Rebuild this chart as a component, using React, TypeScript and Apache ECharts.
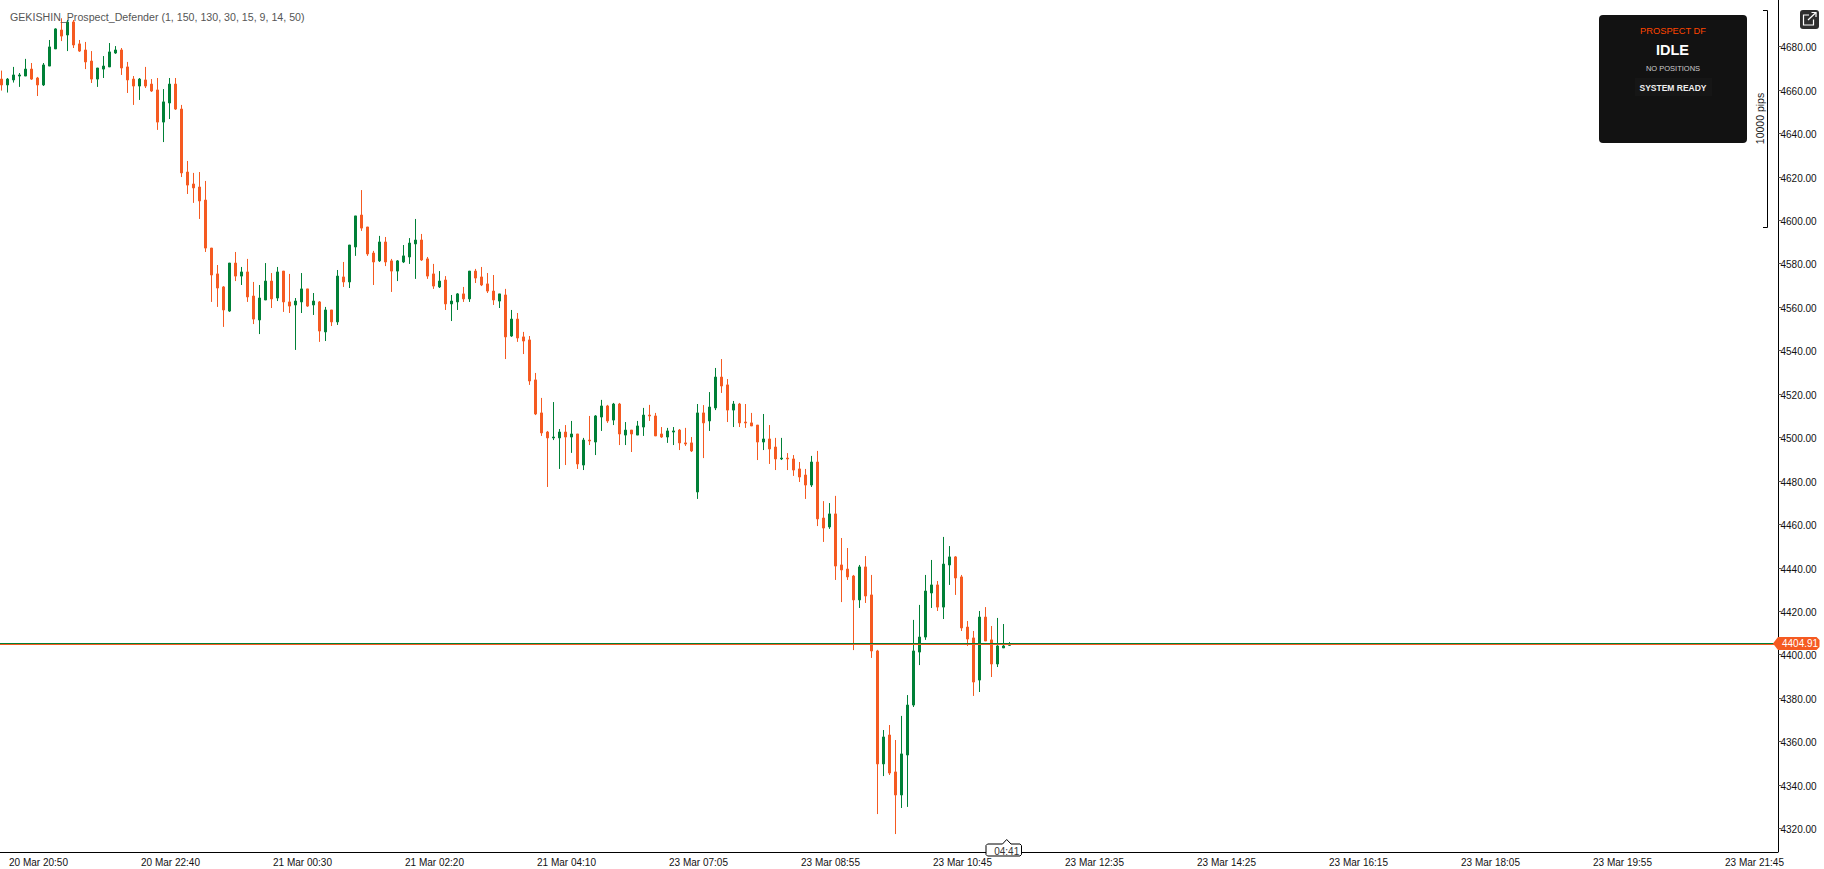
import React, { useEffect, useRef } from 'react';
import * as echarts from 'echarts';

const opens = [
  4665.0,4662.3,4664.6,4666.4,4666.4,4669.6,4665.5,4662.3,4671.0,4678.9,
  4687.6,4685.3,4691.3,4681.2,4678.4,4673.3,4665.0,4669.6,4670.6,4677.0,
  4678.4,4670.6,4665.0,4661.8,4664.6,4662.7,4660.0,4645.2,4654.0,4662.7,
  4651.2,4622.2,4616.7,4615.3,4609.3,4587.2,4575.3,4569.3,4558.2,4580.3,
  4574.3,4576.2,4565.1,4554.1,4563.3,4572.0,4564.2,4576.6,4562.4,4561.0,
  4562.4,4568.4,4561.0,4562.4,4548.6,4558.7,4553.2,4573.9,4571.6,4587.7,
  4602.4,4596.9,4584.9,4581.3,4590.0,4581.3,4576.6,4580.8,4583.1,4589.1,
  4590.9,4582.2,4575.3,4569.3,4572.5,4561.5,4562.4,4566.1,4563.8,4576.6,
  4573.9,4570.7,4567.4,4562.8,4565.6,4546.7,4554.5,4546.3,4544.9,4526.5,
  4511.3,4502.5,4499.8,4499.8,4502.5,4500.2,4501.6,4487.3,4498.8,4497.9,
  4509.4,4514.5,4508.0,4515.4,4501.1,4503.4,4501.1,4504.8,4510.3,4509.9,
  4501.6,4500.2,4502.5,4503.4,4497.5,4497.5,4474.9,4511.3,4507.6,4513.6,
  4527.8,4524.2,4512.6,4515.4,4507.1,4506.7,4505.7,4497.9,4499.3,4495.6,
  4490.1,4490.5,4490.1,4485.5,4482.7,4478.1,4488.7,4462.9,4458.8,4464.8,
  4441.3,4439.4,4436.2,4425.2,4440.4,4427.5,4401.7,4349.7,4363.0,4346.0,
  4335.4,4353.8,4376.8,4401.2,4408.1,4428.4,4432.1,4421.9,4441.3,4445.0,
  4435.8,4412.7,4407.7,4388.3,4417.3,4406.8,4395.7,4403.1,4404.3,
];
const closes = [
  4662.3,4665.0,4666.9,4666.9,4669.6,4665.0,4662.3,4671.5,4679.8,4688.1,
  4684.8,4691.3,4680.7,4677.9,4672.9,4665.0,4670.1,4671.0,4677.5,4678.4,
  4670.1,4664.6,4661.8,4665.0,4661.8,4659.5,4645.2,4654.5,4662.7,4651.2,
  4621.8,4616.2,4614.9,4608.9,4587.2,4574.8,4568.8,4558.7,4580.3,4574.3,
  4576.2,4564.7,4554.5,4564.2,4572.0,4563.8,4576.2,4562.4,4560.5,4562.8,
  4568.4,4560.5,4562.8,4549.0,4558.7,4553.2,4574.3,4571.6,4588.6,4602.0,
  4596.4,4584.5,4580.8,4590.0,4580.8,4576.6,4581.3,4583.6,4589.5,4590.9,
  4581.7,4574.3,4569.7,4572.0,4561.5,4562.8,4566.1,4563.8,4576.6,4573.4,
  4570.2,4567.4,4563.3,4566.1,4546.3,4554.5,4545.8,4544.4,4526.0,4510.8,
  4502.1,4499.8,4500.2,4502.5,4500.2,4501.6,4487.8,4498.8,4498.4,4509.9,
  4514.5,4507.6,4515.4,4501.6,4503.4,4501.6,4505.3,4510.3,4509.9,4500.7,
  4500.2,4503.0,4503.0,4497.5,4497.0,4493.8,4511.3,4506.7,4514.0,4527.8,
  4523.7,4512.6,4515.4,4506.7,4506.7,4505.3,4497.9,4499.3,4494.7,4490.1,
  4490.5,4490.1,4485.0,4481.8,4478.1,4488.7,4462.5,4458.3,4464.8,4440.8,
  4439.0,4435.8,4425.2,4440.4,4427.0,4401.7,4349.7,4362.1,4345.5,4335.4,
  4354.3,4376.8,4401.7,4408.1,4429.3,4432.1,4421.9,4441.7,4445.0,4435.3,
  4412.3,4407.2,4387.4,4417.3,4406.3,4395.7,4404.0,4404.0,4404.9,
];
const lows = [
  4659.7,4658.8,4663.4,4661.4,4666.4,4664.6,4657.2,4661.8,4671.0,4678.9,
  4682.5,4677.9,4679.3,4677.5,4669.6,4663.2,4661.4,4665.5,4670.6,4676.6,
  4666.9,4658.6,4653.1,4655.4,4660.9,4659.1,4641.6,4636.0,4646.6,4650.8,
  4619.9,4612.1,4608.0,4600.6,4585.4,4562.4,4560.1,4550.9,4557.8,4572.0,
  4570.2,4562.4,4552.2,4547.6,4563.3,4559.6,4562.8,4557.8,4557.3,4540.3,
  4557.3,4560.1,4556.4,4544.0,4544.4,4551.3,4551.8,4569.3,4568.8,4583.6,
  4595.1,4583.6,4570.2,4580.8,4578.9,4567.0,4572.0,4580.3,4579.9,4573.0,
  4581.3,4573.0,4568.4,4568.8,4558.7,4553.6,4558.7,4562.4,4562.4,4571.1,
  4569.7,4566.5,4561.0,4559.6,4536.1,4546.3,4544.0,4538.4,4524.2,4510.3,
  4500.7,4477.2,4498.8,4485.5,4487.3,4492.9,4485.5,4485.0,4496.5,4491.9,
  4503.0,4506.7,4505.7,4496.5,4496.5,4493.3,4501.1,4500.7,4507.6,4500.7,
  4499.8,4497.5,4496.5,4494.2,4496.1,4493.3,4471.7,4490.5,4503.0,4512.6,
  4520.5,4507.1,4504.8,4504.8,4504.4,4505.3,4489.6,4494.2,4487.8,4485.0,
  4489.6,4485.0,4482.3,4479.5,4471.7,4477.2,4459.2,4451.9,4457.9,4434.4,
  4424.2,4434.4,4402.1,4421.5,4423.8,4398.5,4326.6,4344.1,4344.6,4317.4,
  4329.4,4329.9,4375.9,4395.2,4406.8,4421.5,4420.1,4416.4,4432.1,4427.5,
  4410.9,4404.0,4381.0,4382.8,4406.3,4389.7,4394.3,4403.1,4404.0,
];
const highs = [
  4668.9,4665.5,4670.6,4667.8,4674.3,4672.4,4666.0,4672.4,4683.0,4688.4,
  4693.0,4692.2,4692.2,4683.0,4682.1,4677.9,4670.1,4675.6,4681.6,4680.2,
  4679.3,4672.9,4666.4,4665.5,4670.6,4665.0,4665.5,4660.4,4665.5,4665.5,
  4653.1,4627.3,4621.8,4622.2,4618.1,4587.2,4579.4,4569.7,4580.3,4585.4,
  4578.5,4582.2,4571.6,4570.2,4580.3,4575.7,4578.5,4576.6,4575.3,4564.2,
  4575.7,4568.4,4566.5,4562.8,4560.1,4558.7,4577.1,4580.8,4588.6,4602.0,
  4613.9,4596.9,4585.9,4592.8,4592.3,4582.2,4581.7,4588.6,4591.8,4600.6,
  4593.7,4583.1,4579.9,4576.6,4574.3,4565.6,4566.5,4569.3,4576.6,4577.6,
  4578.5,4575.7,4574.8,4566.1,4568.4,4558.7,4557.3,4548.6,4546.7,4529.7,
  4518.2,4503.0,4516.3,4503.9,4505.7,4507.6,4501.6,4499.8,4509.9,4510.3,
  4517.3,4515.0,4515.9,4515.9,4507.1,4503.4,4507.6,4513.6,4515.0,4511.3,
  4504.8,4504.4,4504.8,4503.9,4504.4,4500.2,4515.4,4514.9,4520.9,4532.0,
  4536.1,4526.9,4516.8,4515.9,4515.4,4511.3,4505.7,4510.8,4505.7,4499.8,
  4499.8,4492.8,4491.9,4488.7,4485.5,4491.5,4493.8,4470.7,4469.8,4473.1,
  4453.7,4449.1,4436.7,4441.3,4445.4,4436.7,4402.2,4365.3,4367.6,4360.7,
  4371.8,4381.4,4416.0,4422.9,4436.7,4443.6,4433.9,4454.2,4450.0,4445.4,
  4436.7,4415.5,4410.9,4420.1,4421.9,4413.2,4416.9,4414.1,4405.8,
];

const timeLabels = [
  '20 Mar 20:50', '20 Mar 22:40', '21 Mar 00:30', '21 Mar 02:20', '21 Mar 04:10',
  '23 Mar 07:05', '23 Mar 08:55', '23 Mar 10:45', '23 Mar 12:35', '23 Mar 14:25',
  '23 Mar 16:15', '23 Mar 18:05', '23 Mar 19:55', '23 Mar 21:45',
];
const priceTicks = [
  4320, 4340, 4360, 4380, 4400, 4420, 4440, 4460, 4480, 4500, 4520, 4540,
  4560, 4580, 4600, 4620, 4640, 4660, 4680,
];
// bid and ask lines, one pixel apart around the last price tag
const bidLine = 4405.14;
const askLine = 4404.68;

const UP = '#008037';
const DOWN = '#F55A21';
const FONT = '"Liberation Sans", Arial, sans-serif';

// 5 minute bars, a label every 22 bars, and empty slots to the right of the last bar
const SLOTS = 297;
const FIRST_TICK = 6;
const TICK_STEP = 22;
const isTick = (i: number) => i >= FIRST_TICK && (i - FIRST_TICK) % TICK_STEP === 0;
const categories = Array.from({ length: SLOTS }, (_, i) =>
  isTick(i) ? timeLabels[(i - FIRST_TICK) / TICK_STEP] ?? '' : ''
);
const candles = opens.map((o, i) => [o, closes[i], lows[i], highs[i]]);

const text = (x: number, y: number, value: string, fontSize: number, fill: string, fontWeight = 'normal', align = 'center') => ({
  type: 'text',
  x,
  y,
  z: 20,
  style: { text: value, fontSize, fill, fontWeight, fontFamily: FONT, align, verticalAlign: 'middle' },
});

const App: React.FC = () => {
  const chartRef = useRef<HTMLDivElement>(null);

  useEffect(() => {
    if (!chartRef.current) return;
    const chart = echarts.init(chartRef.current, undefined, { renderer: 'svg' });

    const option: any = {
      animation: false,
      backgroundColor: '#ffffff',
      // the first bar sits partly left of the page, so the grid has to start off-page
      grid: { left: -1.5, top: 0, width: SLOTS * 6, height: 852, outerBoundsMode: 'none' },
      xAxis: {
        type: 'category',
        data: categories,
        axisLine: { show: false },
        axisTick: { alignWithLabel: true, interval: (i: number) => isTick(i), length: 3, lineStyle: { color: '#000', width: 2 } },
        axisLabel: { interval: (i: number) => isTick(i), color: '#111', fontSize: 10, fontFamily: FONT, margin: 5, padding: [0, 0, 0, 2] },
        splitLine: { show: false },
      },
      yAxis: {
        type: 'value',
        position: 'right',
        offset: -2,
        min: 4309.14,
        max: 4701.41,
        scale: true,
        axisLine: { show: true, lineStyle: { color: '#000', width: 1 } },
        axisTick: { show: true, customValues: priceTicks, length: 3, lineStyle: { color: '#555', width: 1 } },
        axisLabel: {
          customValues: priceTicks,
          formatter: (v: number) => v.toFixed(2),
          color: '#111',
          fontSize: 10,
          fontFamily: FONT,
          margin: 2,
          verticalAlign: 'top',
          lineHeight: 2.5,
        },
        splitLine: { show: false },
      },
      series: [
        {
          type: 'candlestick',
          data: candles,
          barWidth: 2,
          itemStyle: { color: UP, color0: DOWN, borderColor: UP, borderColor0: DOWN, borderWidth: 1 },
          markLine: {
            silent: true,
            symbol: 'none',
            label: { show: false },
            animation: false,
            data: [
              { yAxis: bidLine, lineStyle: { color: UP, type: 'solid', width: 1 } },
              { yAxis: askLine, lineStyle: { color: DOWN, type: 'solid', width: 1 } },
            ],
          },
        },
      ],
      graphic: [
        { type: 'line', z: 10, shape: { x1: 0, y1: 852.5, x2: 1778, y2: 852.5 }, style: { stroke: '#000', lineWidth: 1 } },
        text(10, 17, 'GEKISHIN_Prospect_Defender (1, 150, 130, 30, 15, 9, 14, 50)', 10.65, '#555', 'normal', 'left'),

        // status panel
        { type: 'rect', z: 15, shape: { x: 1599, y: 15, width: 148, height: 128, r: 4 }, style: { fill: '#121212' } },
        { type: 'rect', z: 16, shape: { x: 1635, y: 78, width: 77, height: 18 }, style: { fill: '#161616' } },
        text(1673, 30.5, 'PROSPECT DF', 9.3, '#FF4500'),
        text(1672.5, 50, 'IDLE', 14.5, '#ffffff', 'bold'),
        text(1673, 68, 'NO POSITIONS', 7.5, '#cccccc'),
        text(1673, 87.5, 'SYSTEM READY', 8.5, '#eeeeee', 'bold'),

        // scale bracket
        { type: 'polyline', z: 10, shape: { points: [[1763, 10.5], [1767.5, 10.5], [1767.5, 227.5], [1763, 227.5]] }, style: { stroke: '#000', lineWidth: 1, fill: 'none' } },
        {
          type: 'text',
          z: 10,
          x: 1760,
          y: 118.5,
          rotation: Math.PI / 2,
          style: { text: '10000 pips', fontSize: 10.5, fill: '#222', fontFamily: FONT, align: 'center', verticalAlign: 'middle' },
        },

        // open in window button
        { type: 'rect', z: 15, shape: { x: 1800, y: 10, width: 19, height: 19, r: 3 }, style: { fill: '#2f2f2f' } },
        { type: 'polyline', z: 16, shape: { points: [[1809, 15], [1803.5, 15], [1803.5, 25], [1813.5, 25], [1813.5, 19.5]] }, style: { stroke: '#fff', lineWidth: 1.2, fill: 'none' } },
        { type: 'line', z: 16, shape: { x1: 1808, y1: 20, x2: 1816, y2: 12.5 }, style: { stroke: '#fff', lineWidth: 1.2 } },
        { type: 'polyline', z: 16, shape: { points: [[1811.5, 12.5], [1816, 12.5], [1816, 17]] }, style: { stroke: '#fff', lineWidth: 1.2, fill: 'none' } },

        // last price tag
        {
          type: 'polygon',
          z: 15,
          shape: { points: [[1773, 643.5], [1778, 637], [1816.5, 637], [1819.5, 640], [1819.5, 647], [1816.5, 650], [1778, 650]] },
          style: { fill: DOWN },
        },
        text(1782, 643.7, '4404.91', 10, '#ffffff', 'normal', 'left'),

        // bar countdown tag
        {
          type: 'polygon',
          z: 15,
          shape: {
            points: [
              [987.5, 844], [1002.5, 844], [1006.7, 839.5], [1011, 844], [1020, 844], [1021.5, 845.5],
              [1021.5, 854.5], [1020, 856], [987.5, 856], [986, 854.5], [986, 845.5],
            ],
          },
          style: { fill: '#ffffff', stroke: '#000', lineWidth: 1 },
        },
        text(1006.7, 851, '04:41', 10, '#333333'),
      ],
    };

    chart.setOption(option);

    return () => {
      chart.dispose();
    };
  }, []);

  return <div ref={chartRef} style={{ position: 'absolute', left: 0, top: 0, width: 1824, height: 869, overflow: 'hidden' }} />;
};

export default App;
